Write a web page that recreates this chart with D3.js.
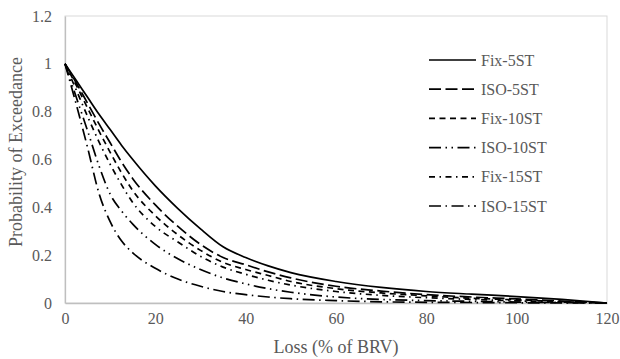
<!DOCTYPE html>
<html>
<head>
<meta charset="utf-8">
<script src="https://cdn.jsdelivr.net/npm/d3@7"></script>
<style>
  body { margin: 0; background: #fff; }
  svg text { font-family: "Liberation Serif", "Times New Roman", serif; fill: #595959; }
</style>
</head>
<body>
<div class="container"></div>
<script>
var lossValues = [0, 2.5, 5, 7.5, 10, 12.5, 15, 20, 25, 30, 35, 40, 45, 50, 60, 70, 80, 90, 100, 110, 120];

var fix5 = [1, 0.93, 0.86, 0.79, 0.725, 0.66, 0.6, 0.49, 0.395, 0.31, 0.235, 0.19, 0.155, 0.127, 0.09, 0.065, 0.048, 0.037, 0.027, 0.015, 0];
var iso5 = [1, 0.92, 0.835, 0.75, 0.67, 0.59, 0.52, 0.41, 0.32, 0.245, 0.19, 0.16, 0.13, 0.105, 0.07, 0.05, 0.035, 0.025, 0.017, 0.008, 0];
var fix10 = [1, 0.91, 0.815, 0.72, 0.63, 0.545, 0.47, 0.365, 0.285, 0.22, 0.17, 0.14, 0.115, 0.09, 0.06, 0.042, 0.03, 0.02, 0.013, 0.006, 0];
var iso10 = [1, 0.86, 0.72, 0.575, 0.455, 0.385, 0.33, 0.245, 0.185, 0.14, 0.105, 0.08, 0.06, 0.045, 0.025, 0.015, 0.01, 0.007, 0.004, 0.002, 0];
var fix15 = [1, 0.89, 0.78, 0.675, 0.58, 0.495, 0.42, 0.32, 0.255, 0.195, 0.15, 0.12, 0.095, 0.075, 0.048, 0.032, 0.022, 0.015, 0.009, 0.004, 0];
var iso15 = [1, 0.83, 0.65, 0.46, 0.34, 0.26, 0.21, 0.145, 0.1, 0.07, 0.048, 0.035, 0.025, 0.018, 0.01, 0.005, 0.003, 0.002, 0.001, 0.0005, 0];

var seriesNames = ['Fix-5ST', 'ISO-5ST', 'Fix-10ST', 'ISO-10ST', 'Fix-15ST', 'ISO-15ST'];
var seriesValues = [fix5, iso5, fix10, iso10, fix15, iso15];
var xTicks = [0, 20, 40, 60, 80, 100, 120];
var yTicks = [0, 0.2, 0.4, 0.6, 0.8, 1, 1.2];

// excel-like dash styles, line width about 1.7px
var dashes = ['', '12,4.5', '6,4.5', '12,4.5,1.5,4.5,1.5,4.5', '6,4.5,1.5,4.5', '12,4.5,1.5,4.5'];

var translate = function (x, y) {
    return 'translate(' + x + ', ' + y + ')';
};

var visualize = function () {
    const WIDTH = 620;
    const HEIGHT = 359;
    const LEFT = 65, TOP = 16, RIGHT = 607, BOTTOM = 303;

    var xScale = d3.scaleLinear().domain([0, 120]).range([LEFT, RIGHT]);
    var yScale = d3.scaleLinear().domain([0, 1.2]).range([BOTTOM, TOP]);

    var svg = d3.select('.container')
        .append('svg')
        .attr('width', WIDTH)
        .attr('height', HEIGHT);

    // plot area border
    svg.append('rect')
        .attr('x', LEFT).attr('y', TOP)
        .attr('width', RIGHT - LEFT).attr('height', BOTTOM - TOP)
        .attr('fill', 'none')
        .attr('stroke', '#d9d9d9')
        .attr('stroke-width', 1);

    var xAxis = d3.axisBottom(xScale).tickValues(xTicks).tickSize(0).tickPadding(10)
        .tickFormat(d3.format('d'));
    var yAxis = d3.axisLeft(yScale).tickValues(yTicks).tickSize(0).tickPadding(13)
        .tickFormat(function (d) { return String(+d.toFixed(1)); });

    var gx = svg.append('g').attr('transform', translate(0, BOTTOM)).call(xAxis);
    var gy = svg.append('g').attr('transform', translate(LEFT, 0)).call(yAxis);
    gx.select('.domain').attr('stroke', '#bfbfbf').attr('stroke-width', 1.3);
    gy.select('.domain').attr('stroke', '#bfbfbf').attr('stroke-width', 1.3);
    svg.selectAll('.tick text')
        .attr('font-size', 16)
        .style('font-family', '"Liberation Serif", serif')
        .attr('fill', '#595959');

    var line = d3.line()
        .x(function (d) { return xScale(d.x); })
        .y(function (d) { return yScale(d.y); })
        .curve(d3.curveMonotoneX);

    var lineGroup = svg.append('g');
    seriesValues.forEach(function (vals, i) {
        var pts = vals.map(function (v, j) { return {x: lossValues[j], y: v}; });
        lineGroup.append('path')
            .datum(pts)
            .attr('d', line)
            .attr('fill', 'none')
            .attr('stroke', '#000')
            .attr('stroke-width', 1.7)
            .attr('stroke-dasharray', dashes[i] || null);
    });

    // legend
    var legend = svg.append('g').attr('transform', translate(429, 60));
    seriesNames.forEach(function (name, i) {
        var row = legend.append('g').attr('transform', translate(0, i * 29.2));
        row.append('line')
            .attr('x1', 0).attr('x2', 47)
            .attr('y1', 0).attr('y2', 0)
            .attr('stroke', '#000')
            .attr('stroke-width', 1.7)
            .attr('stroke-dasharray', dashes[i] || null);
        row.append('text')
            .attr('x', 52).attr('y', 5.5)
            .attr('font-size', 16)
            .text(name);
    });

    // axis titles
    svg.append('text')
        .attr('x', (LEFT + RIGHT) / 2).attr('y', 353)
        .attr('text-anchor', 'middle')
        .attr('font-size', 18)
        .text('Loss (% of BRV)');

    svg.append('text')
        .attr('transform', translate(22, 152) + ' rotate(-90)')
        .attr('text-anchor', 'middle')
        .attr('font-size', 18)
        .text('Probability of Exceedance');
};

window.onload = visualize;
</script>
</body>
</html>
